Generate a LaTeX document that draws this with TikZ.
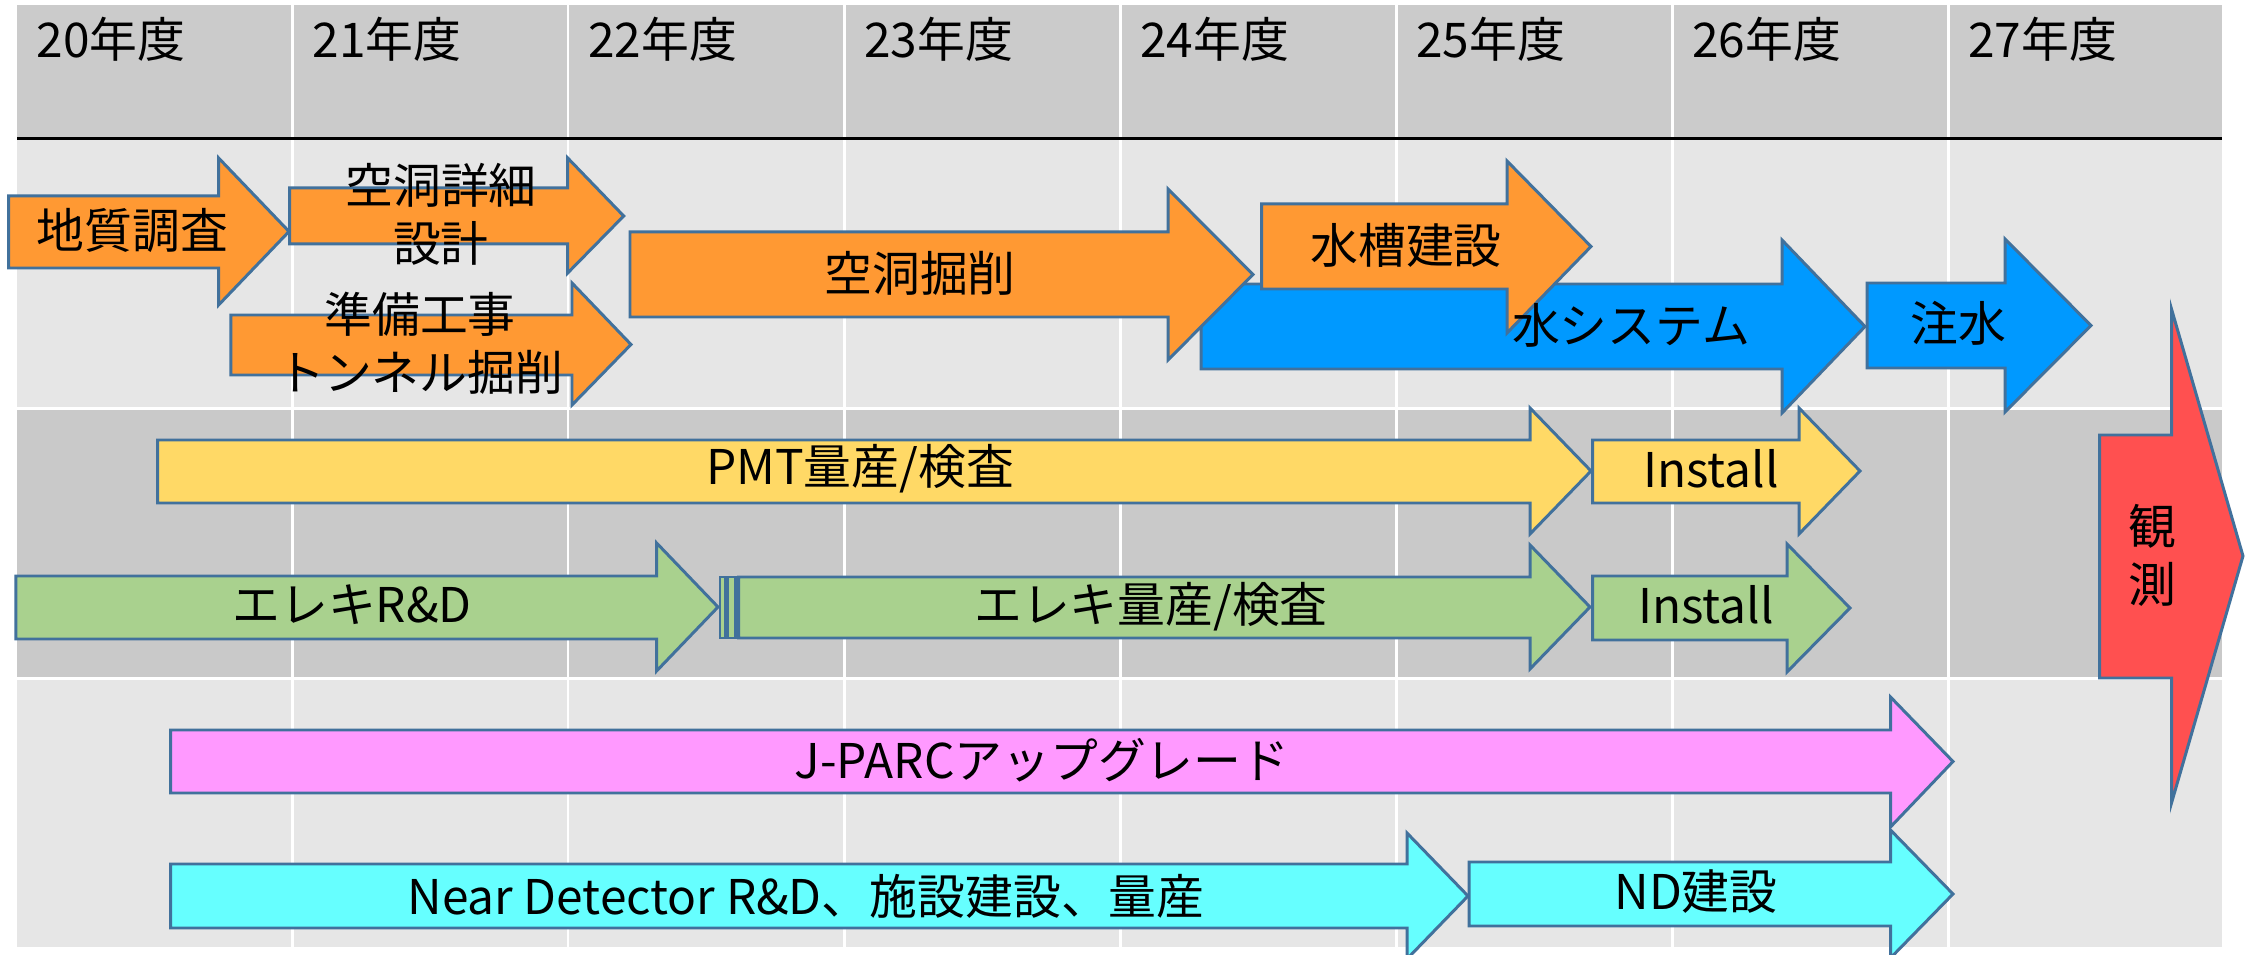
\documentclass[tikz,border=0pt]{standalone}
\usepackage{fontspec}
\setmainfont{Noto Sans CJK JP}
\definecolor{hdr}{HTML}{CBCBCB}
\definecolor{rowlight}{HTML}{E6E6E6}
\definecolor{rowdark}{HTML}{C9C9C9}
\definecolor{outl}{HTML}{41719C}
\definecolor{aorange}{HTML}{FF9933}
\definecolor{ablue}{HTML}{0099FF}
\definecolor{ared}{HTML}{FF5050}
\definecolor{ayellow}{HTML}{FFD966}
\definecolor{agreen}{HTML}{A9D18E}
\definecolor{apink}{HTML}{FF99FF}
\definecolor{acyan}{HTML}{66FFFF}
% #1 fill, #2 left x, #3 body top, #4 body bottom, #5 head base x, #6 head top, #7 head bottom, #8 tip x, #9 tip y
\newcommand{\schedarrow}[9]{%
  \path[arrowline, fill=#1] (#2,#3) -- (#5,#3) -- (#5,#6) -- (#8,#9) -- (#5,#7) -- (#5,#4) -- (#2,#4) -- cycle;}
\begin{document}
\begin{tikzpicture}[x=0.01cm, y=-0.01cm,
  arrowline/.style={draw=outl, line width=0.85pt, line join=miter},
  lbl/.style={font=\fontsize{13.6}{16.5}\selectfont, text=black, inner sep=0pt, align=center},
  yr/.style={font=\fontsize{13.6}{16.5}\selectfont, text=black, anchor=base west, inner sep=0pt}]
\useasboundingbox (0,0) rectangle (2247,955);
\clip (0,0) rectangle (2247,955);
\fill[white] (0,0) rectangle (2247,955);
% bands
\fill[hdr] (17,5) rectangle (2222,137);
\fill[rowlight] (17,140) rectangle (2222,407.5);
\fill[rowdark] (17,410) rectangle (2222,677);
\fill[rowlight] (17,680) rectangle (2222,947);
\foreach \x in {292.5,568,844,1120,1396,1672,1948}
  \draw[white, line width=0.85pt] (\x,5) -- (\x,947);
\draw[black, line width=0.9pt] (17,138.5) -- (2222,138.5);
% year labels
\node[yr] (y20) at (36,58) {20年度};
\node[yr] (y21) at (312,58) {21年度};
\node[yr] (y22) at (587.5,58) {22年度};
\node[yr] (y23) at (863.5,58) {23年度};
\node[yr] (y24) at (1139.5,58) {24年度};
\node[yr] (y25) at (1415.5,58) {25年度};
\node[yr] (y26) at (1691.5,58) {26年度};
\node[yr] (y27) at (1967.5,58) {27年度};
% row 1 arrows
\schedarrow{ablue}{1201}{284}{369}{1782}{240}{413}{1865}{326.5}
\schedarrow{aorange}{630}{232}{317}{1168}{189}{360}{1253}{274.5}
\schedarrow{aorange}{1261.5}{204}{289}{1507}{161}{333}{1591}{246.5}
\schedarrow{aorange}{8.6}{196}{268}{218.6}{158}{305}{289}{231.5}
\schedarrow{aorange}{289.6}{188}{244}{567.7}{158}{273}{623.7}{216}
\schedarrow{aorange}{230.8}{315}{375}{572}{283}{405}{631}{344.5}
\schedarrow{ablue}{1867}{283}{368}{2005}{239}{412}{2091}{325.5}
% observation arrow
\schedarrow{ared}{2099.6}{435}{678}{2171.5}{309}{803}{2243}{556}
% row 2 arrows
\schedarrow{ayellow}{157.7}{440}{503}{1530}{408}{534}{1591}{471}
\schedarrow{ayellow}{1592.5}{440}{503}{1799}{408}{534}{1860}{471}
\schedarrow{agreen}{15.8}{576}{639}{656.6}{543}{671}{718}{607}
\path[arrowline, fill=agreen] (720,577) rectangle (725,638);
\path[arrowline, fill=agreen] (727.3,577) rectangle (735.7,638);
\schedarrow{agreen}{738.7}{577}{638}{1530}{545}{669}{1590}{607}
\schedarrow{agreen}{1592.5}{576}{640}{1787}{544}{672}{1850}{608}
% row 3 arrows
\schedarrow{apink}{170.6}{730}{793}{1890.5}{697}{827}{1953}{761.5}
\schedarrow{acyan}{170.6}{864}{928}{1407}{833}{959}{1468}{896}
\schedarrow{acyan}{1469}{862}{926}{1890.5}{830}{958}{1953}{894}
% labels
\node[lbl] (t1) at (132.6,230) {地質調査};
\node[lbl] (t2) at (441,214) {空洞詳細\\設計};
\node[lbl] (t3) at (420,343) {準備工事\\トンネル掘削};
\node[lbl] (t4) at (920,273) {空洞掘削};
\node[lbl] (t5) at (1406,245) {水槽建設};
\node[lbl] (t6) at (1631,325) {水システム};
\node[lbl] (t7) at (1958,323) {注水};
\node[lbl] (t8) at (2152,555) {観\\測};
\node[lbl] (t9) at (860,469) {PMT量産/検査};
\node[lbl] (t10) at (1711,469) {Install};
\node[lbl] (t11) at (352,605) {エレキR\&D};
\node[lbl] (t12) at (1151,607) {エレキ量産/検査};
\node[lbl] (t13) at (1706,605) {Install};
\node[lbl] (t14) at (1042,760) {J-PARCアップグレード};
\node[lbl] (t15) at (806,896) {Near Detector R\&D、施設建設、量産};
\node[lbl] (t16) at (1696,892) {ND建設};
\end{tikzpicture}
\end{document}
